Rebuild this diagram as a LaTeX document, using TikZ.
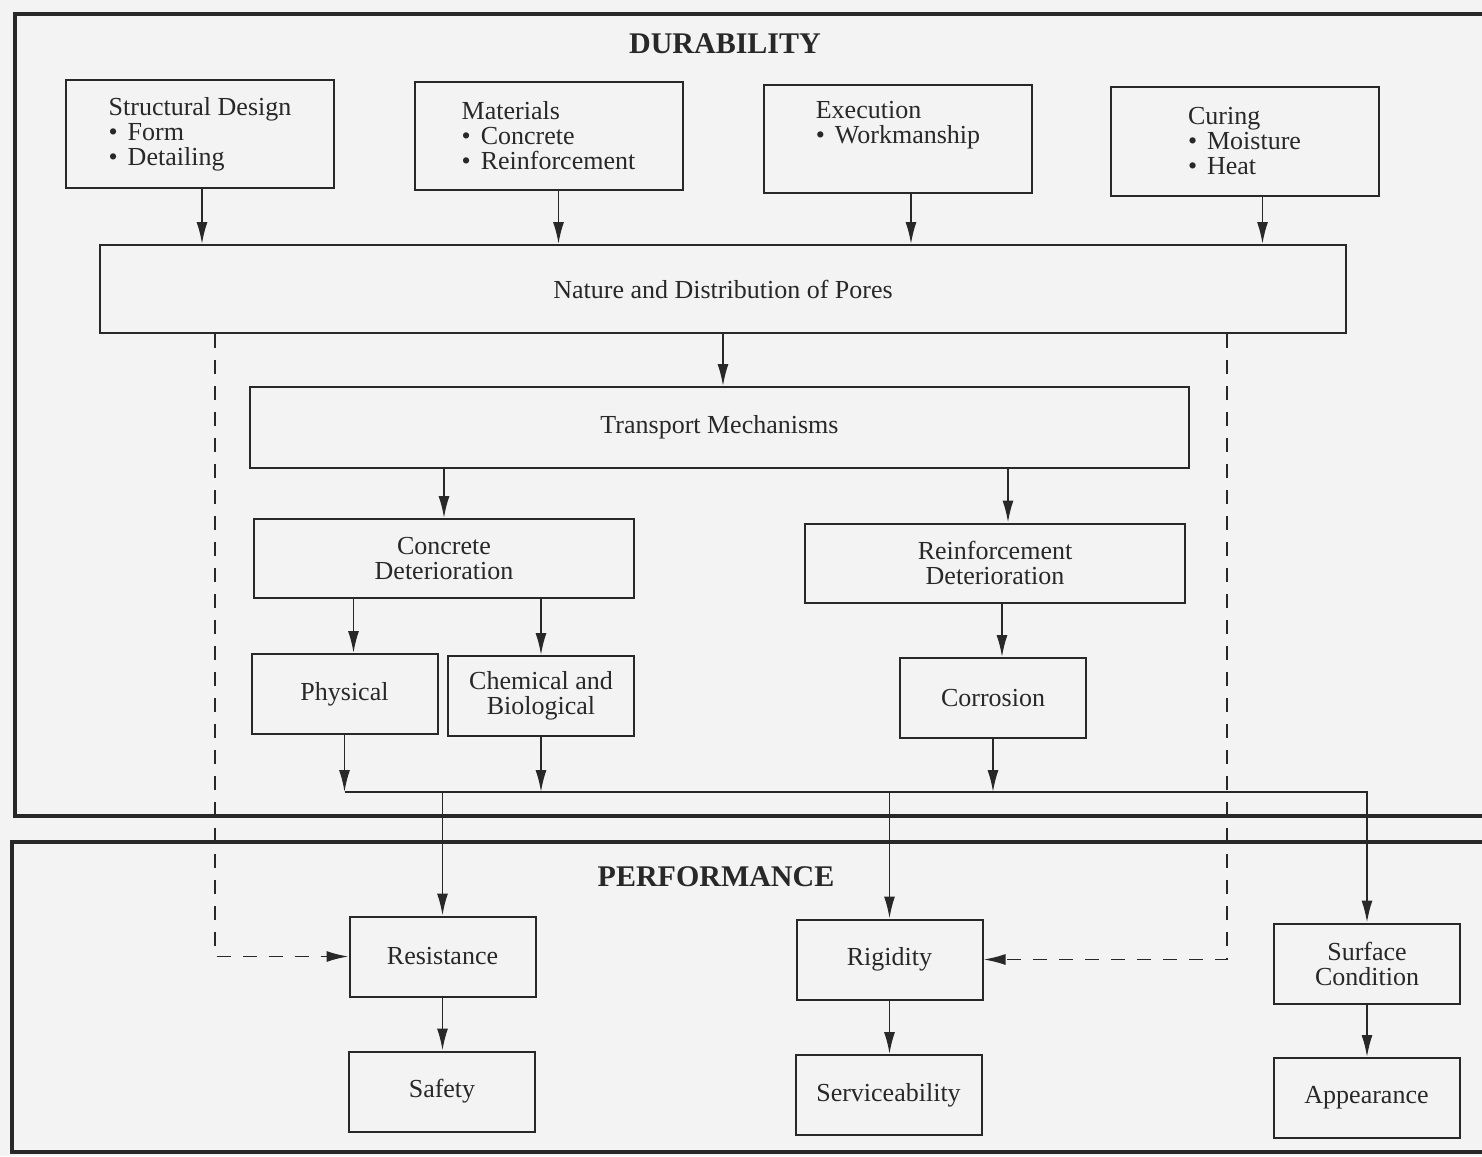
\documentclass[tikz,border=0pt]{standalone}
\usepackage{fontspec}
\setmainfont{Liberation Serif}
\usetikzlibrary{arrows.meta}
\definecolor{paper}{RGB}{243,243,243}
\definecolor{ink}{RGB}{40,40,40}
\tikzset{
  blk/.style={draw=ink, line width=1pt, inner sep=0pt, text=ink, font=\fontsize{13}{12.5}\selectfont},
  topbox/.style={blk, minimum width=134pt, minimum height=54pt, align=left},
  midbox/.style={blk, minimum width=190pt, minimum height=39.5pt, align=center},
  smallbox/.style={blk, minimum width=93pt, minimum height=40pt, align=center},
  arr/.style={draw=ink, line width=0.9pt, -{Latex[length=11pt,width=5.5pt]}},
  dasharr/.style={arr, dash pattern=on 7pt off 6pt},
  frame/.style={draw=ink, line width=1.6pt},
  title/.style={text=ink, font=\fontsize{15}{15}\selectfont\bfseries},
}
\begin{document}
\begin{tikzpicture}[x=0.5pt,y=-0.5pt]
  \useasboundingbox (0,0) rectangle (1482,1156);
  % paper
  \fill[paper] (0,0) rectangle (1482,1156);
  % the two frames, open to the right
  \draw[frame] (1482,14) -- (15,14) -- (15,816) -- (1482,816);
  \draw[frame] (1482,842) -- (12,842) -- (12,1152) -- (1482,1152);
  \node[title] (dur) at (725,44) {DURABILITY};
  \node[title] (perf) at (716,877) {PERFORMANCE};

  %% top row
  \node[topbox] (sd) at (200,134) {Structural Design\\ \textbullet\hspace{5pt}Form\\ \textbullet\hspace{5pt}Detailing};
  \node[topbox] (mat) at (548.5,136) {Materials\\ \textbullet\hspace{5pt}Concrete\\ \textbullet\hspace{5pt}Reinforcement};
  \node[topbox] (exe) at (898,139) {Execution\\ \textbullet\hspace{5pt}Workmanship\\ \strut};
  \node[topbox] (cur) at (1244.5,141.5) {Curing\\ \textbullet\hspace{5pt}Moisture\\ \textbullet\hspace{5pt}Heat};

  %% middle
  \node[blk, minimum width=623pt, minimum height=44pt] (pores) at (723,289) {Nature and Distribution of Pores};
  \node[blk, minimum width=469.5pt, minimum height=40.5pt] (trans) at (719.5,427.5) {Transport Mechanisms};
  \node[midbox] (cdet) at (444,558.5) {Concrete\\Deterioration};
  \node[midbox] (rdet) at (995,563) {Reinforcement\\Deterioration};
  \node[smallbox] (phys) at (344.5,694) {Physical};
  \node[smallbox] (chem) at (541,696) {Chemical and\\Biological};
  \node[smallbox] (corr) at (993,698) {Corrosion};

  %% performance
  \node[smallbox] (resist) at (442.5,956.5) {Resistance};
  \node[smallbox] (safety) at (442,1091.5) {Safety};
  \node[smallbox] (rigid) at (889.5,959.5) {Rigidity};
  \node[smallbox] (service) at (888.5,1095) {Serviceability};
  \node[smallbox] (surf) at (1367,963.5) {Surface\\Condition};
  \node[smallbox] (appear) at (1366.5,1098) {Appearance};

  %% arrows into the pores box
  \foreach \n/\dx in {sd/1pt, mat/5pt, exe/6.5pt, cur/9pt}
    \draw[arr] ([xshift=\dx]\n.south) -- ([xshift=\dx]\n.south |- pores.north);

  \draw[arr] (pores.south) -- (pores.south |- trans.north);
  \draw[arr] (cdet.north |- trans.south) -- (cdet.north);
  \draw[arr] ([xshift=6.5pt]rdet.north |- trans.south) -- ([xshift=6.5pt]rdet.north);
  \draw[arr] ([xshift=4.5pt]phys.north |- cdet.south) -- ([xshift=4.5pt]phys.north);
  \draw[arr] (chem.north |- cdet.south) -- (chem.north);
  \draw[arr] ([xshift=4.5pt]corr.north |- rdet.south) -- ([xshift=4.5pt]corr.north);

  %% collecting line
  \coordinate (bus) at (0,792);
  \draw[arr] (phys.south) -- (phys.south |- bus);
  \draw[arr] (chem.south) -- (chem.south |- bus);
  \draw[arr] (corr.south) -- (corr.south |- bus);
  \draw[arr] (phys.south |- bus) -| (surf.north);
  \draw[arr] (resist.north |- bus) -- (resist.north);
  \draw[arr] (rigid.north |- bus) -- (rigid.north);

  \draw[arr] (resist.south) -- (resist.south |- safety.north);
  \draw[arr] (rigid.south) -- (rigid.south |- service.north);
  \draw[arr] (surf.south) -- (surf.south |- appear.north);

  % dashed side paths
  \draw[dasharr] ([xshift=58pt]pores.south west) |- (resist.west);
  \draw[dasharr] ([xshift=-60pt]pores.south east) |- (rigid.east);
\end{tikzpicture}
\end{document}
